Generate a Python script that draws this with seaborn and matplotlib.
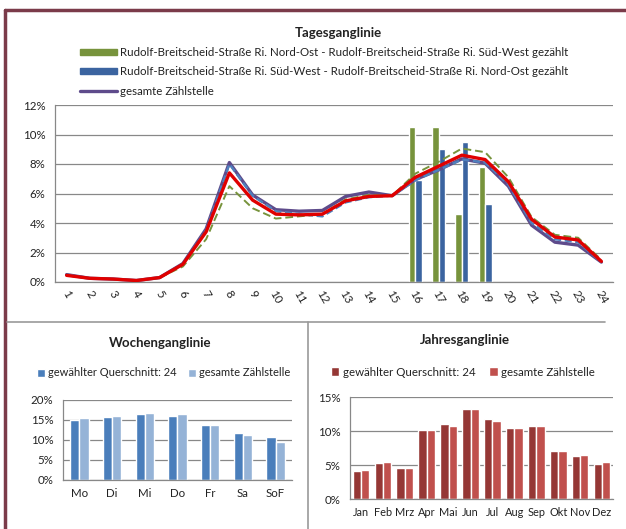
import numpy as np
import pandas as pd
import matplotlib
matplotlib.use("Agg")
import matplotlib.pyplot as plt
import seaborn as sns
from matplotlib.lines import Line2D
from matplotlib.patches import Patch
from matplotlib.ticker import FuncFormatter

# ── Daten: Tagesganglinie (Anteile in %) ──
hours = list(range(1, 25))
gesamt_line = [0.5, 0.25, 0.2, 0.1, 0.3, 1.25, 3.6, 8.1, 5.9, 4.9, 4.8, 4.85,
               5.8, 6.1, 5.85, 6.95, 7.6, 8.35, 8.05, 6.5, 3.85, 2.7, 2.5, 1.35]
sw_no_line = [0.5, 0.25, 0.2, 0.1, 0.3, 1.2, 3.5, 8.0, 5.85, 4.8, 4.6, 4.45,
              5.4, 5.75, 5.85, 6.9, 7.6, 8.3, 8.1, 6.6, 4.0, 2.9, 2.7, 1.35]
no_sw_line = [0.45, 0.25, 0.2, 0.1, 0.3, 1.05, 2.9, 6.5, 5.0, 4.3, 4.45, 4.6,
              5.6, 5.9, 5.85, 7.35, 8.15, 9.05, 8.8, 7.1, 4.4, 3.2, 3.0, 1.5]
mittel_line = [0.45, 0.25, 0.2, 0.1, 0.3, 1.2, 3.4, 7.4, 5.55, 4.6, 4.55, 4.6,
               5.5, 5.8, 5.85, 7.1, 7.85, 8.6, 8.3, 6.8, 4.25, 3.05, 2.85, 1.4]

bar_hours = [16, 17, 18, 19]
bar_no_sw = [10.5, 10.5, 4.6, 7.8]
bar_sw_no = [6.9, 9.0, 9.5, 5.3]

label_no_sw = ("Rudolf-Breitscheid-Straße Ri. Nord-Ost - "
               "Rudolf-Breitscheid-Straße Ri. Süd-West gezählt")
label_sw_no = ("Rudolf-Breitscheid-Straße Ri. Süd-West - "
               "Rudolf-Breitscheid-Straße Ri. Nord-Ost gezählt")

# ── Daten: Wochenganglinie ──
days = ["Mo", "Di", "Mi", "Do", "Fr", "Sa", "SoF"]
week_sel = [15.0, 15.8, 16.5, 16.0, 13.7, 11.8, 10.7]
week_all = [15.5, 16.0, 16.8, 16.5, 13.7, 11.3, 9.4]

# ── Daten: Jahresganglinie ──
months = ["Jan", "Feb", "Mrz", "Apr", "Mai", "Jun", "Jul", "Aug", "Sep",
          "Okt", "Nov", "Dez"]
year_sel = [4.1, 5.3, 4.6, 10.2, 11.1, 13.2, 11.7, 10.5, 10.8, 7.0, 6.3, 5.2]
year_all = [4.2, 5.4, 4.6, 10.1, 10.8, 13.2, 11.5, 10.4, 10.8, 7.1, 6.4, 5.4]

series_sel = "gewählter Querschnitt: 24"
series_all = "gesamte Zählstelle"

sns.set_style("white")
plt.rcParams["font.family"] = ["Lato", "DejaVu Sans"]
plt.rcParams["font.size"] = 8.3
plt.rcParams["text.color"] = "#222222"
plt.rcParams["xtick.color"] = "#222222"
plt.rcParams["ytick.color"] = "#222222"

W, H = 626, 529
fig = plt.figure(figsize=(W / 100, H / 100), dpi=100)

pct = FuncFormatter(lambda v, _: f"{v:.0f}%")
grid_c = "#888888"
axis_c = "#888888"


def px_axes(x0, y0, x1, y1):
    # pixel box (top-left origin) -> figure axes
    return fig.add_axes([x0 / W, 1 - y1 / H, (x1 - x0) / W, (y1 - y0) / H])


def excel_style(ax):
    for s in ["top", "right"]:
        ax.spines[s].set_visible(False)
    for s in ["left", "bottom"]:
        ax.spines[s].set_color(axis_c)
        ax.spines[s].set_linewidth(0.9)
    ax.yaxis.grid(True, color=grid_c, linewidth=0.9)
    ax.set_axisbelow(True)
    ax.yaxis.set_major_formatter(pct)
    ax.tick_params(axis="x", which="major", length=0, pad=6)
    ax.tick_params(axis="x", which="minor", length=4, color=axis_c)
    ax.tick_params(axis="y", length=4, color=axis_c, pad=3)
    ax.set_xlabel("")
    ax.set_ylabel("")


def category_ticks(ax, n):
    ax.set_xlim(-0.5, n - 0.5)
    ax.set_xticks(np.arange(-0.5, n, 1), minor=True)


# ── Tagesganglinie ──
ax1 = px_axes(55, 105, 613, 282)
bars_df = pd.DataFrame({
    "Stunde": bar_hours * 2,
    "Anteil": bar_no_sw + bar_sw_no,
    "Richtung": [label_no_sw] * 4 + [label_sw_no] * 4,
})
sns.barplot(data=bars_df, x="Stunde", y="Anteil", hue="Richtung",
            palette=["#77933C", "#3B64A0"], native_scale=True, saturation=1,
            width=0.56, gap=0, legend=False, ax=ax1, zorder=2)

line_specs = [
    (gesamt_line, "#5E4B8B", "-", 2.4),
    (sw_no_line, "#4F81BD", (0, (3, 1.5)), 1.7),
    (no_sw_line, "#77933C", (0, (4, 2)), 1.4),
    (mittel_line, "#E00000", "-", 2.4),
]
for vals, col, ls, lw in line_specs:
    sns.lineplot(x=hours, y=vals, color=col, linestyle=ls, linewidth=lw,
                 ax=ax1, zorder=3)

excel_style(ax1)
ax1.set_ylim(0, 12)
ax1.set_yticks(np.arange(0, 13, 2))
ax1.set_xlim(0.5, 24.5)
ax1.set_xticks(hours)
ax1.set_xticklabels([str(h) for h in hours], rotation=-60,
                    ha="center", va="top")
ax1.set_xticks(np.arange(0.5, 25, 1), minor=True)
ax1.tick_params(axis="x", which="major", pad=5)

fig.text(338 / W, 1 - 33 / H, "Tagesganglinie", ha="center", va="center",
         fontsize=9.5, fontweight="bold")
handles = [
    Patch(color="#77933C", label=label_no_sw),
    Patch(color="#3B64A0", label=label_sw_no),
    Line2D([], [], color="#5E4B8B", linewidth=2.4, label="gesamte Zählstelle"),
]
fig.legend(handles=handles, loc="upper left",
           bbox_to_anchor=(80 / W, 1 - 47 / H), frameon=False,
           handlelength=3.2, handleheight=0.5, handletextpad=0.3,
           labelspacing=0.72, borderaxespad=0, borderpad=0)

# ── Wochenganglinie ──
ax2 = px_axes(63, 400, 292, 480)
week_df = pd.DataFrame({
    "Tag": days * 2,
    "Anteil": week_sel + week_all,
    "Reihe": [series_sel] * len(days) + [series_all] * len(days),
})
sns.barplot(data=week_df, x="Tag", y="Anteil", hue="Reihe", saturation=1,
            palette=["#4A7EBB", "#95B3D7"], width=0.56, gap=0, ax=ax2)
excel_style(ax2)
category_ticks(ax2, len(days))
ax2.set_ylim(0, 20)
ax2.set_yticks(np.arange(0, 21, 5))
sns.move_legend(ax2, "center", bbox_to_anchor=(0.44, 1 + (400 - 373) / 80),
                ncol=2, frameon=False, title=None, handlelength=0.7,
                handleheight=0.7, handletextpad=0.3, columnspacing=1.0,
                fontsize=8)
fig.text(160 / W, 1 - 343 / H, "Wochenganglinie", ha="center", va="center",
         fontsize=9.5, fontweight="bold")

# ── Jahresganglinie ──
ax3 = px_axes(350, 397, 613, 499)
year_df = pd.DataFrame({
    "Monat": months * 2,
    "Anteil": year_sel + year_all,
    "Reihe": [series_sel] * len(months) + [series_all] * len(months),
})
sns.barplot(data=year_df, x="Monat", y="Anteil", hue="Reihe", saturation=1,
            palette=["#953735", "#C0504D"], width=0.76, gap=0, ax=ax3)
excel_style(ax3)
category_ticks(ax3, len(months))
ax3.set_ylim(0, 15)
ax3.set_yticks(np.arange(0, 16, 5))
ax3.tick_params(axis="x", which="major", labelsize=7.9)
sns.move_legend(ax3, "center", bbox_to_anchor=(0.43, 1 + (397 - 372) / 102),
                ncol=2, frameon=False, title=None, handlelength=0.7,
                handleheight=0.7, handletextpad=0.3, columnspacing=1.2)
fig.text(465 / W, 1 - 340 / H, "Jahresganglinie", ha="center", va="center",
         fontsize=9.5, fontweight="bold")

# ── Rahmen und Trennlinien ──
border = "#7B3B4A"
fig.add_artist(Line2D([5 / W, 5 / W], [0, 1 - 10 / H], color=border,
                      linewidth=2.5, transform=fig.transFigure))
fig.add_artist(Line2D([5 / W, 1], [1 - 10 / H, 1 - 10 / H], color=border,
                      linewidth=2.5, transform=fig.transFigure))
sep = "#9a9a9a"
fig.add_artist(Line2D([7 / W, 605 / W], [1 - 322 / H, 1 - 322 / H], color=sep,
                      linewidth=1.2, transform=fig.transFigure))
fig.add_artist(Line2D([308 / W, 308 / W], [0, 1 - 322 / H], color=sep,
                      linewidth=1.2, transform=fig.transFigure))

fig.savefig("out.png", dpi=100)
